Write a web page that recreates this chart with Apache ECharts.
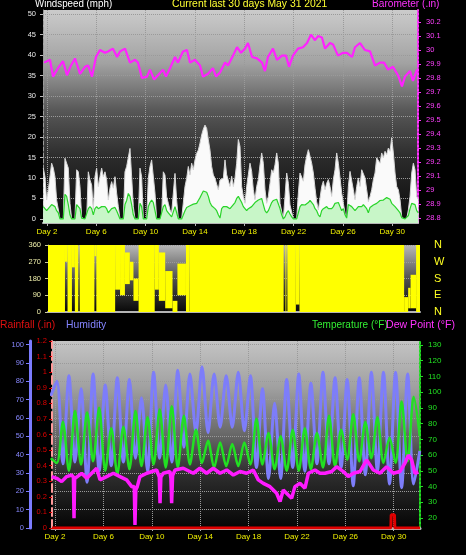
<!DOCTYPE html>
<html><head><meta charset="utf-8">
<script src="https://cdn.jsdelivr.net/npm/echarts@6/dist/echarts.min.js"></script>
<style>html,body{margin:0;padding:0;background:#000;}#c{width:466px;height:555px;}</style>
</head><body><div id="c"></div>
<script>
// ---------- tick labels ----------
const dayTicks = [2, 6, 10, 14, 18, 22, 26, 30];
const windTicks = [0, 5, 10, 15, 20, 25, 30, 35, 40, 45, 50];
const baroTicks = [28.8, 28.9, 29, 29.1, 29.2, 29.3, 29.4, 29.5, 29.6, 29.7, 29.8, 29.9, 30, 30.1, 30.2];
const dirTicks = [0, 90, 180, 270, 360];
const dirCompass = ['N', 'E', 'S', 'W', 'N'];
const humTicks = [0, 10, 20, 30, 40, 50, 60, 70, 80, 90, 100];
const rainTicks = [0, 0.1, 0.2, 0.3, 0.4, 0.5, 0.6, 0.7, 0.8, 0.9, 1, 1.1, 1.2];
const tempTicks = [20, 30, 40, 50, 60, 70, 80, 90, 100, 110, 120, 130];

// ---------- barometer ----------
const baroDays = [1.76,2.24,2.49,2.89,3.30,3.62,3.95,4.27,4.68,5.08,5.33,5.65,5.97,6.30,6.70,6.95,7.35,7.68,7.92,8.33,8.73,9.14,9.38,9.70,10.11,10.35,10.68,11.00,11.41,11.65,11.98,12.38,12.62,13.03,13.35,13.60,14.00,14.41,14.65,15.06,15.46,15.71,16.03,16.44,16.68,17.09,17.41,17.73,18.06,18.30,18.63,19.03,19.44,19.68,19.92,20.33,20.65,21.06,21.38,21.63,21.95,22.36,22.76,23.09,23.41,23.74,23.98,24.30,24.55,24.95,25.20,25.60,26.01,26.33,26.74,26.98,27.39,27.79,28.20,28.60,29.01,29.33,29.66,30.06,30.47,30.79,31.03,31.44,31.68,32.01];
const baroValues = [29.91,29.93,29.81,29.87,29.92,29.82,29.89,29.94,29.83,29.88,29.89,29.81,29.95,30.00,29.98,29.99,30.01,29.95,29.99,30.01,29.91,29.93,29.91,29.80,29.81,29.86,29.79,29.82,29.86,29.81,29.87,29.95,29.91,29.99,30.00,29.91,29.93,29.89,29.81,29.83,29.87,29.81,29.84,29.91,29.89,29.96,30.02,29.98,30.01,30.05,29.95,29.94,29.91,29.85,29.95,30.01,29.93,29.96,29.96,29.88,29.96,30.01,30.02,30.05,30.11,30.07,30.10,30.09,30.01,30.05,30.04,29.96,29.98,29.98,29.95,30.02,30.05,30.00,29.99,29.89,29.91,29.91,29.86,29.88,29.82,29.74,29.81,29.85,29.78,29.86];

// ---------- wind (samples every ~3.2 h) ----------
const windStartDay = 1.70;
const windStepDay = 0.1352;
const windGust = [12.4,10.3,4.6,7.1,6.7,13.6,12.4,10.3,4.6,4.6,
0,0,0,14.8,14.4,12.4,3.8,0,0,0,
12,11.5,7.9,0.5,0,0,0,11.5,9.5,8.3,
2.2,10.3,12.4,7.9,10.3,12.4,10.3,11.5,9.5,4.6,
7.5,9.1,7.5,10.3,6.3,3,0,0,0,11.5,
12.8,12.4,17.2,10.3,3,0,0,0,12.4,10.3,
0,0,0,9.9,12.8,14.4,14.8,6.3,0,0,
0,0.6,11.5,10.7,5.4,3.8,2.2,1.4,1.4,11.1,
4.6,0,0,0,0,7.9,9.9,12.8,10.7,13.6,
12,14.4,16,16.8,18.5,20.5,21.9,22.9,22.1,19.3,
16.8,12.8,10.7,9.9,9.5,7.1,9.5,9.9,9.9,14.4,
10.8,10.4,7.9,10.4,7.9,10,13.6,19.4,17.7,7.9,
5.5,3.8,7.9,10.8,13.6,11.6,7.1,4.7,7.9,9.6,
13.2,16.1,13.6,7.1,3.8,5.5,8.7,12,11.2,13.2,
16.1,13.6,3.8,1.8,0,5.5,11.2,8.7,3.4,3,
0,0,0,6.3,11.2,11.6,9.2,13.2,15.3,16.9,
15.3,13.6,11.2,7.5,4.2,2.2,2.2,7.9,9.2,7.1,
8.7,9.6,7.9,5.5,9.6,12,16.1,13.6,10,6.3,
3.8,1.4,0,7.9,11.6,11.2,7.1,4.7,7.9,10,
7.9,12,11.6,10,7.1,4.2,5.5,7.1,9.6,11.2,
14.9,15.3,13.6,16.1,14.9,16.5,15.7,17.3,16.5,19.8,
16.1,11.2,7.9,7.1,4.7,0.6,0,0,0,2.2,
5.5,11.2,13.6,12,5.5,4.7];
const windAvg = [3.0,3.4,2.0,2.5,3.0,3.5,3.4,3.0,2.0,1.5,
0,0,0,6.0,5.5,3.5,1.0,0,0,0,
3.5,3.8,2.5,0.2,0,0,0,2.5,3.0,2.5,
1.0,2.5,3.0,2.5,2.8,3.0,2.8,3.0,2.5,1.5,
2.0,2.5,2.2,2.8,2.0,1.0,0,0,0,3.5,
4.5,6.2,5.5,3.5,1.0,0,0,0,3.8,3.0,
0,0,0,3.0,4.0,4.6,4.0,2.0,0,0,
0,0.2,3.0,3.5,2.0,1.5,1.0,0.5,0.5,3.0,
1.5,0,0,0,0,2.0,2.8,3.0,3.2,3.4,
3.6,3.4,3.8,4.5,5.2,6.0,6.8,7.2,6.5,5.5,
4.0,3.2,2.8,2.5,2.0,1.0,0.2,2.5,3.0,3.2,
3.0,2.8,2.5,3.0,3.2,4.0,5.0,5.5,5.8,4.0,
3.0,2.5,2.0,2.5,2.8,3.0,3.5,4.0,4.2,4.6,
4.8,5.0,3.5,2.0,1.5,2.0,3.0,4.0,4.5,4.8,
4.8,4.6,2.5,1.0,0,0.5,1.5,2.0,1.2,0.5,
0,0,0,1.5,3.0,3.5,3.8,3.4,3.8,4.0,
4.5,4.6,3.5,2.5,2.0,1.0,0.5,2.0,2.5,2.8,
3.0,2.5,2.8,2.5,3.0,3.8,4.2,4.0,3.0,2.0,
2.5,1.0,0.2,3.5,3.8,3.0,2.5,2.0,2.5,3.0,
2.8,3.0,3.5,3.0,2.5,1.5,2.8,3.0,3.4,3.2,
3.8,4.2,4.5,4.2,4.6,4.8,5.2,5.5,4.8,3.8,
3.4,3.0,2.5,2.0,1.5,0.3,0,0,0,0.8,
2.5,3.8,4.2,3.5,2.0,1.5];

// ---------- wind direction (spans of spread) ----------
const dirStart = [1.70,3.09,3.30,3.66,3.90,4.30,5.50,5.66,7.20,7.60,8.00,8.40,8.70,9.12,10.44,10.78,11.30,11.90,12.30,13.00,13.30,21.15,21.31,22.00,22.30,30.87,31.20,31.40,31.85];
const dirEnd   = [3.09,3.30,3.66,3.90,4.18,5.50,5.66,7.20,7.60,8.00,8.40,8.70,9.12,10.44,10.78,11.30,11.90,12.30,13.00,13.30,21.00,21.22,22.00,22.30,30.87,31.20,31.40,31.85,32.20];
const dirLow   = [0,270,0,240,0,0,300,0,120,90,150,170,60,0,120,60,20,0,90,0,0,0,0,40,0,0,20,20,0];
const dirHigh  = [360,360,360,360,360,360,360,360,360,360,320,270,180,360,360,320,220,60,260,360,360,360,360,360,360,80,130,200,360];

// ---------- humidity / temperature (twice daily, ~04h and ~16h) ----------
const climateStartDay = 1.65;
const climateStepDay = 0.5;
const humidity = [72,80,35,83,36,76,25,84,31,78,34,82,36,81,38,71,31,85,38,78,36,86,44,84,52,88,52,84,55,83,55,85,53,83,33,76,27,68,27,81,33,84,31,79,35,85,35,82,33,81,23,82,29,85,31,85,24,85,22,84,24,42];
const temperature = [58,55,81,50,88,54,87,56,90,50,77,48,78,51,88,53,84,54,89,52,91,52,85,54,76,55,69,52,68,53,67,53,68,54,83,54,74,51,72,50,76,50,77,51,74,52,85,53,76,57,86,56,81,58,84,55,71,55,94,56,97,72];

// ---------- dew point ----------
const dewDays = [1.72,2.14,2.55,2.96,3.38,3.52,3.57,3.62,3.74,4.2,4.62,5.03,5.44,5.72,6.27,6.82,7.37,7.92,8.34,8.55,8.61,8.68,8.8,9.02,9.58,10.4,10.62,10.68,10.75,10.95,11.5,11.58,11.64,11.72,11.92,12.6,13.43,13.98,14.53,15.08,15.64,16.19,16.74,17.29,17.84,18.39,18.8,19.22,19.77,20.32,20.6,20.87,21.28,21.56,21.83,22.25,22.66,22.94,23.49,23.9,24.31,24.87,25.28,25.83,26.24,26.66,27.21,27.76,28.31,28.86,29.41,29.96,30.51,30.93,31.2,31.48,31.75,32.03];
const dewValues = [46.3,45.2,43.1,46.3,47.3,46,19.8,45,45.2,48.4,45.2,48.4,51.6,44.2,46.3,48.4,46.3,44.2,39.9,40,15.5,38,39.9,46.3,48.4,50.5,46,29.3,46,48.4,49.5,45,29.3,47,50.5,51.6,48.4,51.6,48.4,51.6,48.4,50.5,47.3,49.5,48.4,50.5,44.2,42.0,39.9,35.7,30.4,37.8,34.6,32.5,39.9,42.0,38.9,48.4,50.5,48.4,48.4,49.5,52.6,49.5,46.3,48.4,49.5,56.9,50.5,48.4,52.6,48.4,49.5,54.8,60.0,56.9,48.4,49.3];

// ---------- rainfall ----------
const rainDays = [1.75,20.78,20.84,20.9,29.76,29.79,30.06,30.09,32.17];
const rainValues = [0,0,0.012,0,0,0.085,0.085,0,0];

// ================= chart =================
const FONT = '"Liberation Sans", Arial, sans-serif';
function grad(stops) {
  return new echarts.graphic.LinearGradient(0, 0, 0, 1, stops.map(s => ({offset: s[0], color: s[1]})));
}
const dotted = {color: '#9a9a9a', type: 'dotted', width: 1};

const windTimes = windGust.map((_, i) => windStartDay + i * windStepDay);
const climateTimes = humidity.map((_, i) => climateStartDay + i * climateStepDay);
const dirRows = dirStart.map((s, i) => [s, dirEnd[i], dirLow[i], dirHigh[i]]);

function dayAxis(grid, min, max, showLabels, extra) {
  return Object.assign({
    type: 'value', gridIndex: grid, min: min, max: max,
    axisLine: {show: true, onZero: false, lineStyle: {color: '#b4b4b4', width: 2}},
    axisTick: {show: showLabels, customValues: dayTicks, length: 3, lineStyle: {color: '#b4b4b4'}},
    axisLabel: {show: showLabels, customValues: dayTicks, formatter: v => 'Day ' + v,
      color: '#f0f000', fontSize: 8, fontFamily: FONT, margin: 5},
    splitLine: {show: true, lineStyle: dotted}
  }, extra || {});
}

const texts = [
  ['Windspeed (mph)', 35, -2, '#ffffff', 0.85],
  ['Current last 30 days May 31 2021', 172, -2, '#ffff33', 0.9],
  ['Barometer (.in)', 372, -2, '#ff33ff', 0.88],
  ['Rainfall (.in)', 0, 319, '#e01010', 0.9],
  ['Humidity', 66, 319, '#8484ff', 0.9],
  ['Temperature (\u00b0F)', 312, 319, '#33ee33', 0.87],
  ['Dew Point (\u00b0F)', 386, 319, '#ff33ff', 0.92]
];

const option = {
  backgroundColor: '#000',
  animation: false,
  graphic: texts.map(t => ({
    type: 'text', x: t[1], y: t[2], scaleX: t[4], z: 100,
    style: {text: t[0], fill: t[3], font: '11.5px ' + FONT, align: 'left', verticalAlign: 'top'}
  })),
  grid: [
    {left: 43, right: 48, top: 10, height: 213, show: true, borderWidth: 0,
     backgroundColor: grad([[0, '#cbcbcb'], [0.25, '#a2a2a2'], [0.47, '#585858'], [0.7, '#2a2a2a'], [1, '#0a0a0a']])},
    {left: 48, right: 46, top: 245, height: 67, show: true, borderWidth: 0,
     backgroundColor: grad([[0, '#b8b8b8'], [0.5, '#505050'], [1, '#080808']])},
    {left: 52, right: 46, top: 341, height: 187, show: true, borderWidth: 0,
     backgroundColor: grad([[0, '#c4c4c4'], [0.25, '#a0a0a0'], [0.5, '#686868'], [0.7, '#303030'], [1, '#050505']])}
  ],
  xAxis: [
    dayAxis(0, 1.676, 32.09, true),
    dayAxis(1, 1.70, 32.17, false, {splitLine: {show: false}}),
    dayAxis(2, 1.75, 32.17, true, {axisLine: {show: true, onZero: false, lineStyle: {color: '#b8b8b8', width: 3}}})
  ],
  yAxis: [
    {type: 'value', gridIndex: 0, min: -1, max: 51, position: 'left',
     axisLine: {show: true, lineStyle: {color: '#9a9a9a', type: 'dashed'}},
     axisTick: {show: true, customValues: windTicks, length: 3, lineStyle: {color: '#bdbdbd'}},
     axisLabel: {customValues: windTicks, color: '#e8e8e8', fontSize: 7.5, fontFamily: FONT, margin: 7},
     splitLine: {show: true, lineStyle: dotted}},
    {type: 'value', gridIndex: 0, min: 28.764, max: 30.286, position: 'right',
     axisLine: {show: true, lineStyle: {color: '#ff33ff', type: 'dotted', width: 2}},
     axisTick: {show: true, customValues: baroTicks, length: 3, lineStyle: {color: '#ff33ff'}},
     axisLabel: {customValues: baroTicks, color: '#ff40ff', fontSize: 7.5, fontFamily: FONT, margin: 8,
       formatter: v => String(+v.toFixed(1))},
     splitLine: {show: false}},
    {type: 'value', gridIndex: 1, min: 0, max: 360, interval: 90, position: 'left',
     axisLine: {show: true, lineStyle: {color: '#9a9a9a'}},
     axisTick: {show: true, length: 3, lineStyle: {color: '#c8c8a0'}},
     axisLabel: {color: '#eeeeaa', fontSize: 7.5, fontFamily: FONT, margin: 7},
     splitLine: {show: true, lineStyle: dotted}},
    {type: 'value', gridIndex: 1, min: 0, max: 360, interval: 90, position: 'right',
     axisLine: {show: false}, axisTick: {show: false},
     axisLabel: {color: '#ffff22', fontSize: 11, fontFamily: FONT, margin: 14,
       formatter: v => dirCompass[dirTicks.indexOf(v)]},
     splitLine: {show: false}},
    {type: 'value', gridIndex: 2, min: 0, max: 102, interval: 10, position: 'left', offset: 22,
     axisLine: {show: true, lineStyle: {color: '#7c7cff', width: 3}},
     axisTick: {show: true, customValues: humTicks, length: 4, lineStyle: {color: '#7c7cff'}},
     axisLabel: {customValues: humTicks, color: '#8888ff', fontSize: 7.5, fontFamily: FONT, margin: 6},
     splitLine: {show: true, lineStyle: dotted}},
    {type: 'value', gridIndex: 2, min: 0, max: 1.2, position: 'left',
     axisLine: {show: true, lineStyle: {color: '#ff9a9a', type: 'dashed', width: 2}},
     axisTick: {show: true, customValues: rainTicks, length: 3, lineStyle: {color: '#d00000'}},
     axisLabel: {customValues: rainTicks, color: '#dd0000', fontSize: 7.5, fontFamily: FONT, margin: 5,
       formatter: v => String(+v.toFixed(1))},
     splitLine: {show: false}},
    {type: 'value', gridIndex: 2, min: 13.6, max: 132.5, position: 'right',
     axisLine: {show: true, lineStyle: {color: '#22dd22', type: 'dotted', width: 2}},
     axisTick: {show: true, customValues: tempTicks, length: 3, lineStyle: {color: '#22dd22'}},
     axisLabel: {customValues: tempTicks, color: '#22e022', fontSize: 8, fontFamily: FONT, margin: 8},
     splitLine: {show: false}}
  ],
  series: [
    {name: 'Gust', type: 'line', xAxisIndex: 0, yAxisIndex: 0, showSymbol: false, z: 2,
     data: windGust.map((v, i) => [windTimes[i], v]),
     lineStyle: {color: '#d6d6d6', width: 1},
     areaStyle: {color: '#fafafa', opacity: 1, origin: 'start'}},
    {name: 'Wind', type: 'line', xAxisIndex: 0, yAxisIndex: 0, showSymbol: false, z: 3,
     data: windAvg.map((v, i) => [windTimes[i], v]),
     lineStyle: {color: '#2ad42a', width: 1.2},
     areaStyle: {color: '#c8f6c8', opacity: 1, origin: 'start'}},
    {name: 'Barometer', type: 'line', xAxisIndex: 0, yAxisIndex: 1, showSymbol: false, z: 4,
     data: baroValues.map((v, i) => [baroDays[i], v]),
     lineStyle: {color: '#ff22ff', width: 2.2}},
    {name: 'Direction', type: 'custom', xAxisIndex: 1, yAxisIndex: 2, clip: true,
     data: dirRows, encode: {x: [0, 1], y: [2, 3]},
     renderItem: function (params, api) {
       const p0 = api.coord([api.value(0), api.value(3)]);
       const p1 = api.coord([api.value(1), api.value(2)]);
       return {type: 'rect', shape: {x: p0[0], y: p0[1], width: p1[0] - p0[0], height: p1[1] - p0[1]},
               style: {fill: '#ffff00'}};
     }},
    {name: 'Humidity', type: 'line', xAxisIndex: 2, yAxisIndex: 4, showSymbol: false, smooth: 0.3, z: 3,
     data: humidity.map((v, i) => [climateTimes[i], v]),
     lineStyle: {color: '#7d7dfa', width: 3}},
    {name: 'Temperature', type: 'line', xAxisIndex: 2, yAxisIndex: 6, showSymbol: false, smooth: 0.3, z: 4,
     data: temperature.map((v, i) => [climateTimes[i], v]),
     lineStyle: {color: '#22e022', width: 2.5}},
    {name: 'Dew Point', type: 'line', xAxisIndex: 2, yAxisIndex: 6, showSymbol: false, z: 5,
     data: dewValues.map((v, i) => [dewDays[i], v]),
     lineStyle: {color: '#ff1aff', width: 3.5}},
    {name: 'Rainfall', type: 'line', xAxisIndex: 2, yAxisIndex: 5, showSymbol: false, z: 6,
     data: rainValues.map((v, i) => [rainDays[i], v]),
     lineStyle: {color: '#e00000', width: 3}}
  ]
};
const chart = echarts.init(document.getElementById('c'));
chart.setOption(option);
</script></body></html>
